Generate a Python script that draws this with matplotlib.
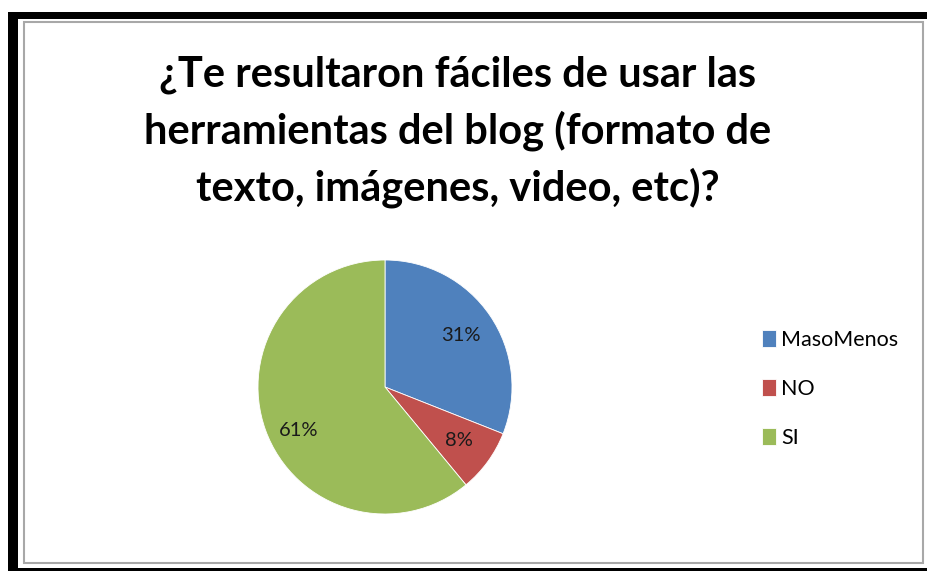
import matplotlib
matplotlib.use('Agg')
from matplotlib import pyplot as plt
from matplotlib.patches import Rectangle
import numpy as np

# survey answers
labels = ['MasoMenos', 'NO', 'SI']
values = [31, 8, 61]
colors = ['#4F81BD', '#C0504D', '#9BBB59']
title = u'¿Te resultaron fáciles de usar las\nherramientas del blog (formato de\ntexto, imágenes, video, etc)?'

W, H = 927, 571
fig = plt.figure(figsize=(W / 100.0, H / 100.0), dpi=100)
fig.patch.set_facecolor('white')
FONT = ['Lato', 'DejaVu Sans']


def px(x, y, w, h):
    # pixel box (top-left origin) -> figure fraction
    return [x / W, 1 - (y + h) / H, w / W, h / H]


def box(x, y, w, h, **kw):
    fig.patches.append(Rectangle(px(x, y, w, h)[:2], w / W, h / H,
                                 transform=fig.transFigure, zorder=-5, **kw))


# screenshot frame: black border + grey chart border
box(8, 12, 10, 571, facecolor='black', edgecolor='none')
box(8, 12, 930, 7, facecolor='black', edgecolor='none')
box(8, 568, 930, 3, facecolor='black', edgecolor='none')
box(24, 22, 899, 541, facecolor='white', edgecolor='#A8A8A8', linewidth=1.5)

fig.text(458 / W, 1 - 132 / H, title, ha='center', va='center', fontsize=30,
         fontweight='bold', family=FONT, color='black', linespacing=1.5)

# pie, centre (385, 387), radius 127 px
r = 127
ax = fig.add_axes(px(385 - r, 387 - r, 2 * r, 2 * r))
wedges, _, autotexts = ax.pie(values, colors=colors, startangle=90, counterclock=False,
                              autopct='%1.0f%%', pctdistance=0.72,
                              wedgeprops=dict(edgecolor='white', linewidth=0.6),
                              textprops=dict(fontsize=14.5, family=FONT, color='#1a1a1a'))
# Excel puts the big slice's label a bit lower than the wedge middle
ang = np.deg2rad(207)
autotexts[2].set_position((0.76 * np.cos(ang), 0.76 * np.sin(ang)))
ax.set_xlim(-1, 1)
ax.set_ylim(-1, 1)
ax.set_aspect('equal')
ax.axis('off')

leg = fig.legend(wedges, labels, loc='center left', bbox_to_anchor=(753 / W, 1 - 389 / H),
                 frameon=False, handlelength=0.65, handleheight=0.8,
                 handletextpad=0.25, labelspacing=1.35, borderaxespad=0,
                 prop=dict(family=FONT, size=15.5))

fig.savefig('out.png', dpi=100)
